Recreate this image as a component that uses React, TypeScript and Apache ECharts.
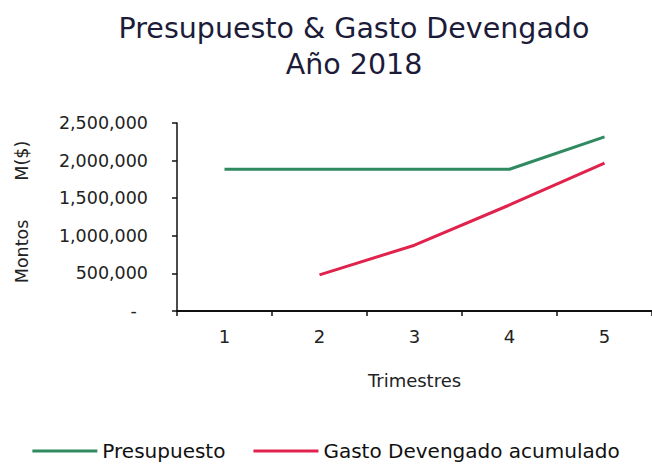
import React, { useEffect, useRef } from "react";
import * as echarts from "echarts";

const categories = ["1", "2", "3", "4", "5"];
const presupuesto = [1885000, 1885000, 1885000, 1885000, 2315000];
const gastoDevengado = [null, 480000, 875000, 1410000, 1965000];

const FONT = "'DejaVu Sans', sans-serif";

export default function App() {
  const ref = useRef<HTMLDivElement>(null);
  useEffect(() => {
    document.body.style.margin = "0";
    if (!ref.current) return;
    const chart = echarts.init(ref.current, undefined, { renderer: "svg" });
    chart.setOption({
      animation: false,
      backgroundColor: "#ffffff",
      title: {
        text: "Presupuesto & Gasto Devengado\nAño 2018",
        left: 349,
        textAlign: "center",
        top: 5,
        textStyle: {
          fontFamily: FONT,
          fontSize: 28.5,
          fontWeight: "normal",
          color: "#1c1c3a",
          lineHeight: 36,
        },
      },
      legend: {
        top: 436,
        left: "center",
        itemWidth: 65,
        itemHeight: 3,
        itemGap: 28,
        icon: "rect",
        textStyle: { fontFamily: FONT, fontSize: 20, color: "#111" },
        data: ["Presupuesto", "Gasto Devengado acumulado"],
      },
      grid: { left: 177, right: -2, top: 123, bottom: 155, containLabel: false },
      xAxis: {
        type: "category",
        data: categories,
        boundaryGap: true,
        name: "Trimestres",
        nameLocation: "middle",
        nameGap: 60,
        nameTextStyle: { fontFamily: FONT, fontSize: 18, color: "#222" },
        axisLine: { lineStyle: { color: "#111", width: 2 } },
        axisTick: { show: true, length: 5, lineStyle: { color: "#111", width: 1.5 } },
        axisLabel: { fontFamily: FONT, fontSize: 18, color: "#222", margin: 16 },
      },
      yAxis: {
        type: "value",
        min: 0,
        max: 2500000,
        interval: 500000,
        name: "Montos       M($)",
        nameLocation: "middle",
        nameGap: 146,
        nameRotate: 90,
        nameTextStyle: { fontFamily: FONT, fontSize: 17.5, color: "#222", padding: [0, 0, 0, 10] },
        splitLine: { show: false },
        axisLine: { show: true, lineStyle: { color: "#111", width: 1.5 } },
        axisTick: { show: true, length: 5, lineStyle: { color: "#111", width: 1.5 } },
        axisLabel: {
          fontFamily: FONT,
          fontSize: 17.5,
          color: "#222",
          margin: 29,
          formatter: (v: number) =>
            v === 0 ? "-  " : v.toLocaleString("en-US"),
        },
      },
      series: [
        {
          name: "Presupuesto",
          type: "line",
          data: presupuesto,
          symbol: "none",
          lineStyle: { color: "#2f8a60", width: 3 },
          itemStyle: { color: "#2f8a60" },
        },
        {
          name: "Gasto Devengado acumulado",
          type: "line",
          data: gastoDevengado,
          symbol: "none",
          lineStyle: { color: "#e0224c", width: 3 },
          itemStyle: { color: "#e0224c" },
        },
      ],
    });
    return () => chart.dispose();
  }, []);
  return <div ref={ref} style={{ width: 652, height: 466 }} />;
}
